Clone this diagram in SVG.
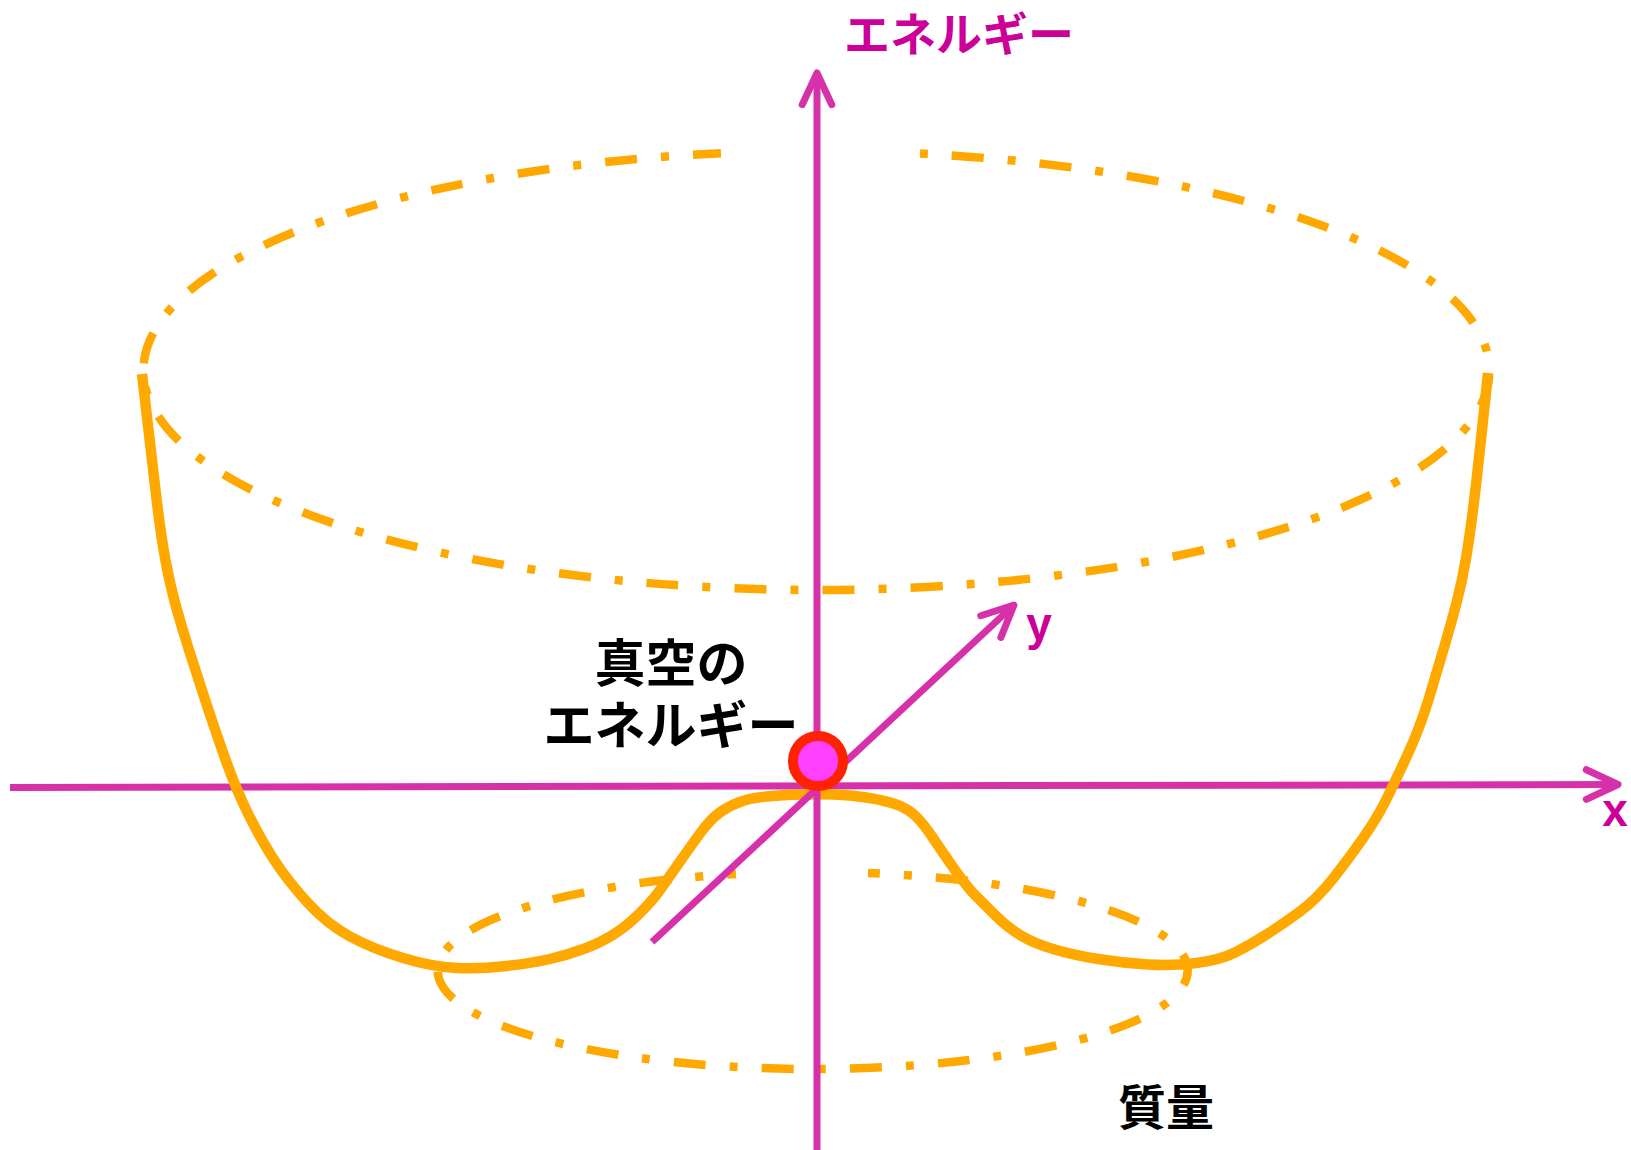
<svg xmlns="http://www.w3.org/2000/svg" width="1631" height="1150" viewBox="0 0 1631 1150">
<style>
.axis{stroke:#D631A9;stroke-width:7;fill:none}
.dash{stroke:#FFA800;stroke-width:8.5;fill:none;stroke-dasharray:32 24 8 24}
.solid{stroke:#FFA800;stroke-width:10.5;fill:none;stroke-linecap:butt;stroke-linejoin:round}
.lbl{fill:#CC0099;font-family:"Liberation Sans",Arial,sans-serif;font-weight:bold;font-size:46px}
.jp{font-family:"Noto Sans CJK JP","Noto Sans CJK SC",sans-serif;font-weight:bold}
</style>
<defs>
<marker id="arr" markerUnits="userSpaceOnUse" viewBox="-40 -25 50 50" refX="0" refY="0" markerWidth="50" markerHeight="50" orient="auto" overflow="visible">
<path d="M-31.7,-14.8 L0,0 L-31.7,14.8" fill="none" stroke="#D631A9" stroke-width="7" stroke-linecap="round" stroke-linejoin="round"/>
</marker>
</defs>
<rect width="1631" height="1150" fill="#FFFFFF"/>
<g id="ellipses">
<path id="upper-ring" class="dash" stroke-dashoffset="56" d="M920,153.6 A673,219.5 0 1 1 721,153.2"/>
<path id="lower-ring" class="dash" stroke-dashoffset="20" d="M868,873.1 A375,98.5 0 1 1 736,874.1"/>
</g>
<g id="connectors">
<line id="x-axis" class="axis" x1="10" y1="787.5" x2="1618" y2="784.5" marker-end="url(#arr)"/>
</g>
<g id="potential">
<path class="solid" d="M142,374 Q152,462 156.5,499 Q161,536 165.5,560.5 Q170,585 176,606.5 Q182,628 189,650 Q196,672 204,696.5 Q212,721 223.5,754 Q235,787 247.5,812.5 Q260,838 273.5,859 Q287,880 307,902 Q327,924 350,936.5 Q373,949 403,958 Q433,967 456.5,968 Q480,969 506.5,966 Q533,963 550,959 Q567,955 583.5,949 Q600,943 613.5,934.5 Q627,926 640,913 Q653,900 660,890 Q667,880 680,861.5 Q693,843 701.5,831.5 Q710,820 718.5,813.5 Q727,807 738.5,802.5 Q750,798 766.5,796.5 Q783,795 800,794.5 Q817,794 833.5,794.5 Q850,795 866.5,797.5 Q883,800 895,804 Q907,808 915,815.5 Q923,823 933,838 Q943,853 955,870 Q967,887 975.5,895.5 Q984,904 995.5,915.5 Q1007,927 1020,935 Q1033,943 1053,949 Q1073,955 1098,959 Q1123,963 1148,964.5 Q1173,966 1196.5,963 Q1220,960 1235,952.5 Q1250,945 1266.5,934.5 Q1283,924 1300,911.5 Q1317,899 1333.5,878 Q1350,857 1363.5,837.5 Q1377,818 1385,802 Q1393,786 1406.5,757 Q1420,728 1429,698 Q1438,668 1444.5,646 Q1451,624 1456.5,603 Q1462,582 1466,558.5 Q1470,535 1474.5,497.5 Q1479,460 1488,373"/>
</g>
<g id="connectors-top">
<line id="energy-axis" class="axis" x1="817" y1="1150" x2="817" y2="73" marker-end="url(#arr)"/>
<line id="y-axis" class="axis" x1="652" y1="942" x2="1014" y2="605" marker-end="url(#arr)"/>
</g>
<g id="vacuum-point">
<circle cx="818" cy="761" r="25" fill="#FF40FF" stroke="#FF2200" stroke-width="10"/>
</g>
<g id="labels">
<text class="lbl jp" x="959" y="51" text-anchor="middle" font-size="46">エネルギー</text>
<text class="lbl" x="1615" y="826" text-anchor="middle">x</text>
<text class="lbl" x="1039" y="640" text-anchor="middle">y</text>
<text class="jp" x="671" y="682" text-anchor="middle" font-size="51" fill="#000000">真空の</text>
<text class="jp" x="671" y="744" text-anchor="middle" font-size="51" fill="#000000">エネルギー</text>
<text class="jp" x="1166" y="1125" text-anchor="middle" font-size="48" fill="#000000">質量</text>
</g>
</svg>
